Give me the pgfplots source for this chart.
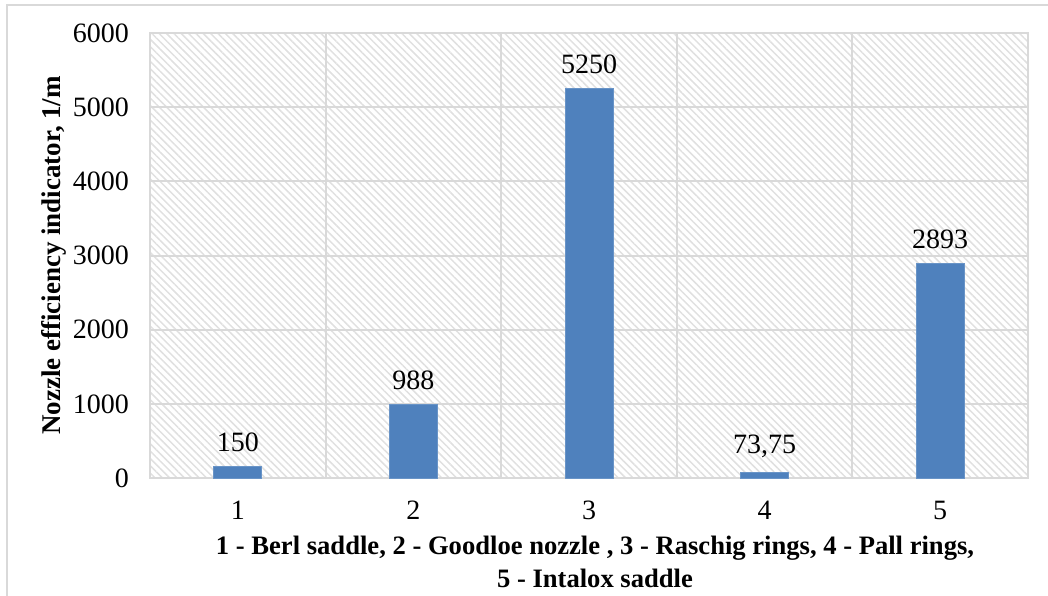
\documentclass[border=0pt]{standalone}
\usepackage{pgfplots}
\pgfplotsset{compat=1.18}
\usepackage{fontspec}
\setmainfont{Liberation Serif}
\usetikzlibrary{patterns.meta}

\definecolor{barblue}{HTML}{4F81BD}
\definecolor{gridgray}{HTML}{D9D9D9}

\begin{document}
\begin{tikzpicture}
    % page = reference image, 1048 x 595 px at 0.5pt per px, origin at top left
    \useasboundingbox (0pt,0pt) rectangle (524pt,-297.5pt);
    \draw[gridgray, line width=1pt] (3.5pt,-2.5pt) rectangle (540pt,-310pt);
    \begin{axis}[
        at={(75pt,-239pt)}, anchor=south west,
        scale only axis,
        width=439pt, height=222.5pt,
        xmin=0.5, xmax=5.5,
        ymin=0, ymax=6000,
        xtick={1,2,3,4,5},
        minor xtick={1.5,2.5,3.5,4.5},
        ytick={0,1000,...,6000},
        major tick length=0pt, minor tick length=0pt,
        ymajorgrids, xminorgrids,
        grid style={gridgray, line width=1pt},
        axis line style={gridgray, line width=1pt},
        axis background/.style={
            pattern={Lines[angle=-45, distance=2.6pt, line width=0.75pt]},
            pattern color=black!12},
        ticklabel style={font=\fontsize{14}{16}\selectfont},
        /pgf/number format/assume math mode=true,
        scaled y ticks=false,
        yticklabel style={/pgf/number format/1000 sep={}, xshift=-7pt},
        xticklabel style={yshift=-8pt},
        ylabel={\textbf{Nozzle efficiency indicator, 1/m}},
        ylabel style={font=\fontsize{13.5}{15}\selectfont, yshift=-3.5pt},
        xlabel={\textbf{1 - Berl saddle, 2 - Goodloe nozzle , 3 - Raschig rings, 4 - Pall rings,}\\\textbf{5 - Intalox saddle}},
        xlabel style={font=\fontsize{13.3}{16.5}\selectfont, align=center, yshift=-1pt, xshift=3pt},
        ybar, bar width=24pt,
        nodes near coords,
        point meta=explicit symbolic,
        nodes near coords style={font=\fontsize{14}{16}\selectfont, yshift=4pt},
    ]
        \addplot[fill=barblue, draw=barblue!85!white, line width=0.5pt] coordinates {
            (1,150) [150]
            (2,988) [988]
            (3,5250) [5250]
            (4,73.75) [73,75]
            (5,2893) [2893]
        };
    \end{axis}
\end{tikzpicture}
\end{document}
